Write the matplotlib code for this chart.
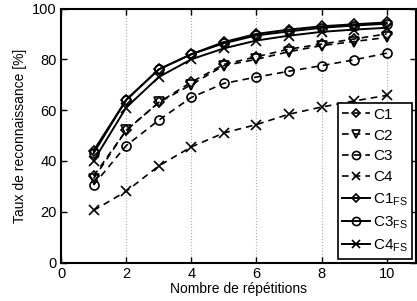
import matplotlib
matplotlib.use("Agg")
import matplotlib.pyplot as plt

plt.rcParams['font.family'] = ['Liberation Sans', 'DejaVu Sans']
plt.rcParams['mathtext.fontset'] = 'custom'
plt.rcParams['mathtext.rm'] = 'Liberation Sans'
plt.rcParams['mathtext.it'] = 'Liberation Sans'

repetitions = [1, 2, 3, 4, 5, 6, 7, 8, 9, 10]
c1 = [34, 52, 63, 71, 78, 81, 84, 86, 88, 90]
c2 = [33, 52, 63, 70, 77.5, 80, 83, 85.4, 87, 88.6]
c3 = [30.5, 46, 56, 65, 70.5, 73, 75.3, 77.5, 79.8, 82.4]
c4 = [20.5, 28, 38, 45.5, 51, 54.3, 58.4, 61.2, 63.6, 65.8]
c1_fs = [44, 64, 76, 82, 86.8, 90, 91.7, 93, 93.8, 94.5]
c3_fs = [43, 64, 76, 82, 86.3, 89.4, 91, 92.4, 93.3, 94]
c4_fs = [40, 61, 73, 80, 84.3, 87.4, 89.3, 90.8, 91.7, 92.4]

series = [
    (c1, 'C1', 'D', '--'),
    (c2, 'C2', 'v', '--'),
    (c3, 'C3', 'o', '--'),
    (c4, 'C4', 'x', '--'),
    (c1_fs, 'C1$_{\\mathrm{FS}}$', 'D', '-'),
    (c3_fs, 'C3$_{\\mathrm{FS}}$', 'o', '-'),
    (c4_fs, 'C4$_{\\mathrm{FS}}$', 'x', '-'),
]

fig = plt.figure(figsize=(4.17, 3.01), dpi=100)
ax = fig.add_axes([61/417, 38.5/301, 355/417, 254/301])

for vals, lab, mk, ls in series:
    ms = 5 if mk == 'D' else 6.5
    ax.plot(repetitions, vals, linestyle=ls, color='black', marker=mk,
            markersize=ms, markerfacecolor='none', markeredgecolor='black',
            markeredgewidth=1.2, linewidth=1.4 if ls == '-' else 1.2,
            label=lab, dashes=(4, 3) if ls == '--' else (None, None))

ax.set_xlim(0, 10.9)
ax.set_ylim(0, 100)
ax.set_xticks([0, 2, 4, 6, 8, 10])
ax.set_yticks([0, 20, 40, 60, 80, 100])
ax.xaxis.grid(True, linestyle=':', color='#aaaaaa', linewidth=0.8)
ax.tick_params(direction='in', top=True, right=True, labelsize=10.5, length=4, width=1, pad=3)
for s in ax.spines.values():
    s.set_linewidth(1.5)

ax.set_xlabel('Nombre de répétitions', fontsize=10, labelpad=1)
ax.set_ylabel('Taux de reconnaissance [%]', fontsize=10, labelpad=4)

leg = ax.legend(loc='lower right', fontsize=11, frameon=True, fancybox=False,
                edgecolor='black', framealpha=1, borderaxespad=0.25,
                handlelength=1.8, handletextpad=0.2, labelspacing=0.45,
                borderpad=0.3, markerscale=0.9)
leg.get_frame().set_linewidth(1.2)

fig.savefig('out.png', dpi=100)
